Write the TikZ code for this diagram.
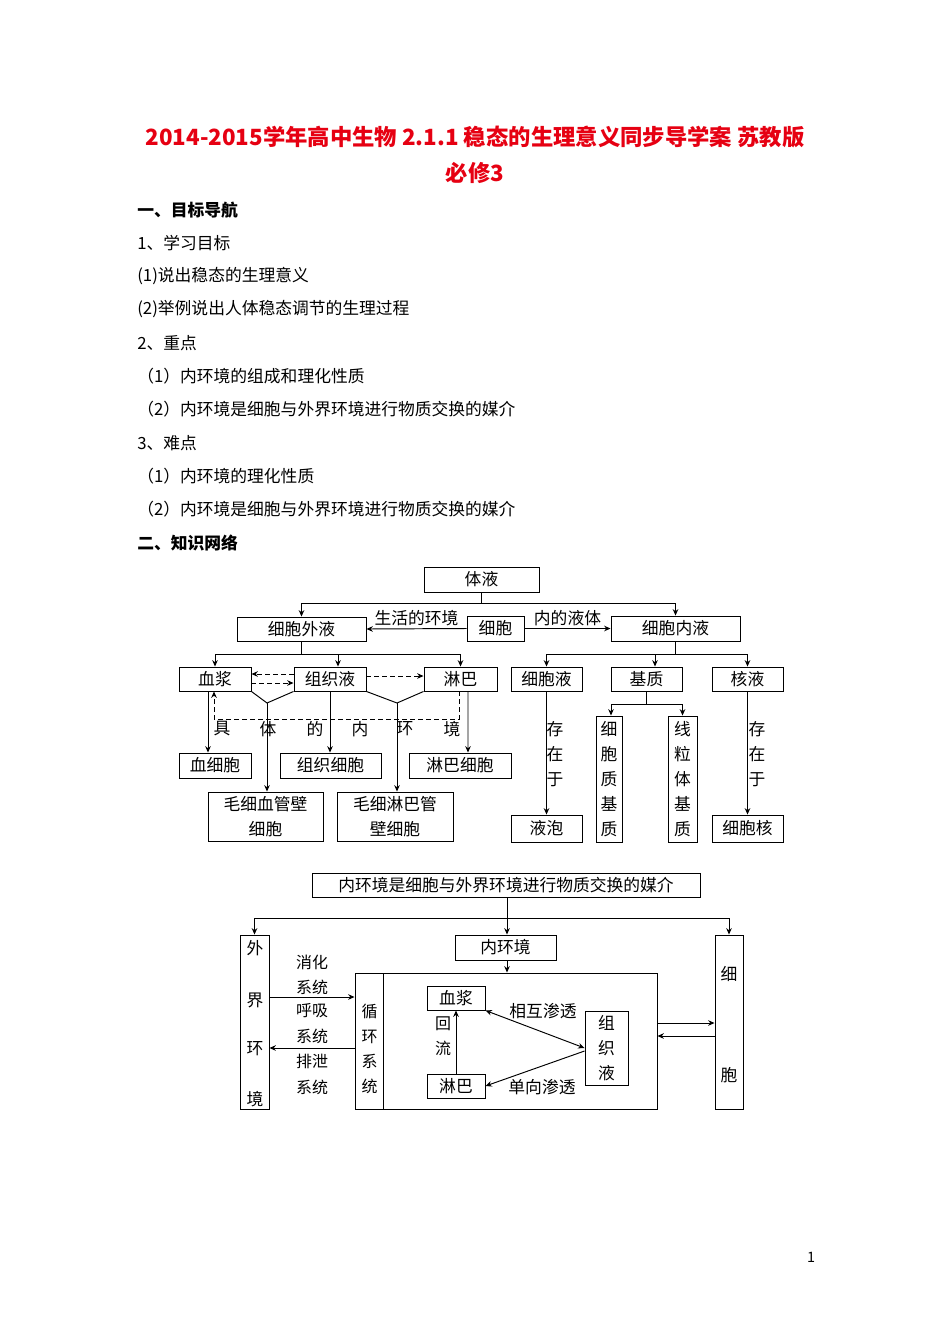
\documentclass[tikz,border=0pt]{standalone}
\usepackage{fontspec}
\setmainfont{Noto Sans CJK SC}
\usetikzlibrary{arrows.meta}
\newcommand{\pxu}{0.6263pt}
\definecolor{titlered}{RGB}{230,0,18}
\tikzset{
  bx/.style 2 args={draw, line width=0.6pt, inner sep=0pt, minimum width=#1*\pxu, minimum height=#2*\pxu, font=\fontsize{10.5pt}{15.66pt}\selectfont, align=center},
  arr/.style={line width=0.6pt, -{Stealth[length=4pt,width=3.5pt]}},
  darr/.style={arr, dash pattern=on 3pt off 2pt},
  biarr/.style={line width=0.6pt, {Stealth[length=4pt,width=3.5pt]}-{Stealth[length=4pt,width=3.5pt]}},
  ln/.style={line width=0.6pt},
  lbl/.style={inner sep=0pt, font=\fontsize{10.5pt}{15.66pt}\selectfont, align=center},
  slbl/.style={inner sep=0pt, font=\fontsize{10pt}{15.66pt}\selectfont, align=center},
  body/.style={anchor=west, inner sep=0pt, font=\fontsize{10.5pt}{12pt}\selectfont},
  head/.style={body, font=\fontsize{10.5pt}{12pt}\selectfont\bfseries},
}
\begin{document}
\begin{tikzpicture}[x=0.6263pt,y=-0.6263pt]
\fill[white] (0,0) rectangle (950,1344);
\useasboundingbox (0,0) rectangle (950,1344);

% ---------- title and text ----------
\node[inner sep=0pt, text=titlered, font=\fontsize{14pt}{16pt}\selectfont\bfseries] (t1) at (475,137) {2014-2015学年高中生物 2.1.1 稳态的生理意义同步导学案 苏教版};
\node[inner sep=0pt, text=titlered, font=\fontsize{14pt}{16pt}\selectfont\bfseries] (t2) at (475,173) {必修3};

\node[head] (h1) at (137,210) {一、目标导航};
\node[body] (b1) at (137,243) {1、学习目标};
\node[body] (b2) at (137,276) {(1)说出稳态的生理意义};
\node[body] (b3) at (137,309) {(2)举例说出人体稳态调节的生理过程};
\node[body] (b4) at (137,343) {2、重点};
\node[body] (b5) at (137,376) {（1）内环境的组成和理化性质};
\node[body] (b6) at (137,409) {（2）内环境是细胞与外界环境进行物质交换的媒介};
\node[body] (b7) at (137,443) {3、难点};
\node[body] (b8) at (137,476) {（1）内环境的理化性质};
\node[body] (b9) at (137,509) {（2）内环境是细胞与外界环境进行物质交换的媒介};
\node[head] (h2) at (137,543) {二、知识网络};

% ---------- diagram 1 ----------
\node[bx={115}{25}] (tiye) at (481.5,579.5) {体液};
\node[bx={129}{24}] (wai) at (301.5,629) {细胞外液};
\node[bx={57}{25}] (xb) at (495.5,628.5) {细胞};
\node[bx={129}{25}] (nei) at (675.5,628.5) {细胞内液};

\node[bx={72}{24}] (xj) at (215,679) {血浆};
\node[bx={72}{24}] (zzy) at (330,679) {组织液};
\node[bx={73}{24}] (lb) at (460.5,679) {淋巴};
\node[bx={71}{24}] (xby) at (546.5,679) {细胞液};
\node[bx={71}{24}] (jz) at (646.5,679) {基质};
\node[bx={71}{24}] (hy) at (747.5,679) {核液};

\node[bx={72}{25}] (xxb) at (215,765.5) {血细胞};
\node[bx={101}{25}] (zzxb) at (330.5,765.5) {组织细胞};
\node[bx={102}{25}] (lbxb) at (460,765.5) {淋巴细胞};
\node[bx={115}{49}] (mxg) at (265.5,816.5) {毛细血管壁\\细胞};
\node[bx={116}{49}] (mlg) at (395,816.5) {毛细淋巴管\\壁细胞};

\node[bx={71}{27}] (yp) at (546.5,828.5) {液泡};
\node[bx={26}{126}] (zjz) at (609,779) {细\\胞\\质\\基\\质};
\node[bx={29}{126}] (xljz) at (682.5,779) {线\\粒\\体\\基\\质};
\node[bx={71}{27}] (xbh) at (747.5,828.5) {细胞核};

% connectors top
\coordinate (j1) at (481.5,603);
\draw[ln] (tiye.south) -- (j1);
\draw[arr] (j1) -| (wai.north);
\draw[arr] (j1) -| (nei.north);
\draw[arr] (xb.west) -- (wai.east) node[lbl, midway, above=1.5pt] {生活的环境};
\draw[arr] (xb.east) -- (nei.west) node[lbl, midway, above=1.5pt] {内的液体};

% left branch
\coordinate (j2) at (301.5,654);
\coordinate (j2b) at (338,654);
\draw[ln] (wai.south) -- (j2);
\draw[arr] (j2) -| (xj.north);
\draw[arr] (j2) -| (lb.north);
\draw[arr] (j2b) -- (j2b |- zzy.north);

% dashed exchanges
\draw[darr] ([yshift=5*\pxu]zzy.west) -- ([yshift=5*\pxu]xj.east);
\draw[darr] ([yshift=-4*\pxu]xj.east) -- ([yshift=-4*\pxu]zzy.west);
\draw[darr] ([yshift=3*\pxu]zzy.east) -- ([yshift=3*\pxu]lb.west);

% V shapes
\coordinate (v1) at (267,703);
\coordinate (v2) at (397,703);
\draw[ln] (xj.south east) -- (v1) -- (zzy.south west);
\draw[ln] (zzy.south east) -- (v2) -- (lb.south west);
\draw[arr] (v1) -- (v1 |- mxg.north);
\draw[arr] (v2) -- (v2 |- mlg.north);

% to cells
\draw[arr] ([xshift=-7*\pxu]xj.south) -- ([xshift=-7*\pxu]xxb.north);
\draw[arr] (zzy.south) -- (zzy.south |- zzxb.north);
\draw[arr] ([xshift=7.5*\pxu]lb.south) -- ([xshift=8*\pxu]lbxb.north);

% dashed loop lymph -> plasma
\coordinate (d1) at (459,719);
\coordinate (d2) at (214,719);
\draw[darr] (d1 |- lb.south) -- (d1) -- (d2) -- (d2 |- xj.south);

\node[lbl] (w1) at (222,729) {具};
\node[lbl] (w2) at (268,729) {体};
\node[lbl] (w3) at (315,729) {的};
\node[lbl] (w4) at (360,729) {内};
\node[lbl] (w5) at (405,729) {环};
\node[lbl] (w6) at (452,729) {境};

% right branch
\coordinate (j3) at (675.5,654);
\coordinate (j3b) at (655,654);
\draw[ln] (nei.south) -- (j3);
\draw[arr] (j3) -| (xby.north);
\draw[arr] (j3) -| (hy.north);
\draw[ln] (j3) -- (j3b);
\draw[arr] (j3b) -- (j3b |- jz.north);

\coordinate (j4) at (646.5,704);
\draw[ln] (jz.south) -- (j4);
\draw[arr] (j4) -| ([xshift=2*\pxu]zjz.north);
\draw[arr] (j4) -| (xljz.north);

\draw[arr] (xby.south) -- (yp.north);
\node[lbl] (cz1) at (555,754) {存\\在\\于};
\draw[arr] (hy.south) -- (xbh.north);
\node[lbl] (cz2) at (757,754) {存\\在\\于};

% ---------- diagram 2 ----------
\node[bx={388}{24}] (mj) at (506,885) {内环境是细胞与外界环境进行物质交换的媒介};
\node[bx={29}{174}] (wjhj) at (254.5,1022) {};
\node[lbl] at (255,948) {外};
\node[lbl] at (255,1000) {界};
\node[lbl] at (255,1049) {环};
\node[lbl] at (255,1099) {境};
\node[bx={28}{174}] (xb2) at (729,1022) {};
\node[lbl] at (729,974) {细};
\node[lbl] at (729,1075) {胞};
\node[bx={101}{25}] (njj) at (505.5,947.5) {内环境};
\node[bx={302}{136}] (big) at (506,1041) {};
\draw[ln] (383,973) -- (383,1109);
\node[slbl] (xhxt) at (369.5,1049) {循\\环\\系\\统};

\coordinate (k1) at (507,918);
\draw[ln] (k1 |- mj.south) -- (k1);
\draw[arr] (k1) -| (wjhj.north);
\draw[arr] (k1) -| (xb2.north);
\draw[arr] (k1) -- (k1 |- njj.north);
\draw[arr] (k1 |- njj.south) -- (k1 |- big.north);

\coordinate (ya) at (0,997);
\coordinate (yb) at (0,1048);
\coordinate (yc) at (0,1023);
\coordinate (yd) at (0,1036);
\draw[arr] (wjhj.east |- ya) -- (big.west |- ya);
\draw[arr] (big.west |- yb) -- (wjhj.east |- yb);
\draw[arr] (big.east |- yc) -- (xb2.west |- yc);
\draw[arr] (xb2.west |- yd) -- (big.east |- yd);

\node[slbl] at (312,962) {消化};
\node[slbl] at (312,987) {系统};
\node[slbl] at (312,1011) {呼吸};
\node[slbl] at (312,1036) {系统};
\node[slbl] at (312,1061) {排泄};
\node[slbl] at (312,1087) {系统};

\node[bx={58}{24}] (xj2) at (456,998) {血浆};
\node[bx={58}{24}] (lb2) at (456,1086) {淋巴};
\node[bx={43}{74}] (zzy2) at (606.5,1048) {组\\织\\液};

\draw[arr] (lb2.north) -- (xj2.south);
\node[slbl] at (443,1036) {回\\流};
\draw[biarr] (xj2.south east) -- (zzy2.west);
\node[lbl] at (543,1011) {相互渗透};
\draw[arr] ([yshift=-3*\pxu]zzy2.west) -- (lb2.east);
\node[lbl] at (542,1087) {单向渗透};

% page number
\node[inner sep=0pt, font=\fontsize{9pt}{10pt}\selectfont] (pg) at (811,1257) {1};
\end{tikzpicture}
\end{document}
